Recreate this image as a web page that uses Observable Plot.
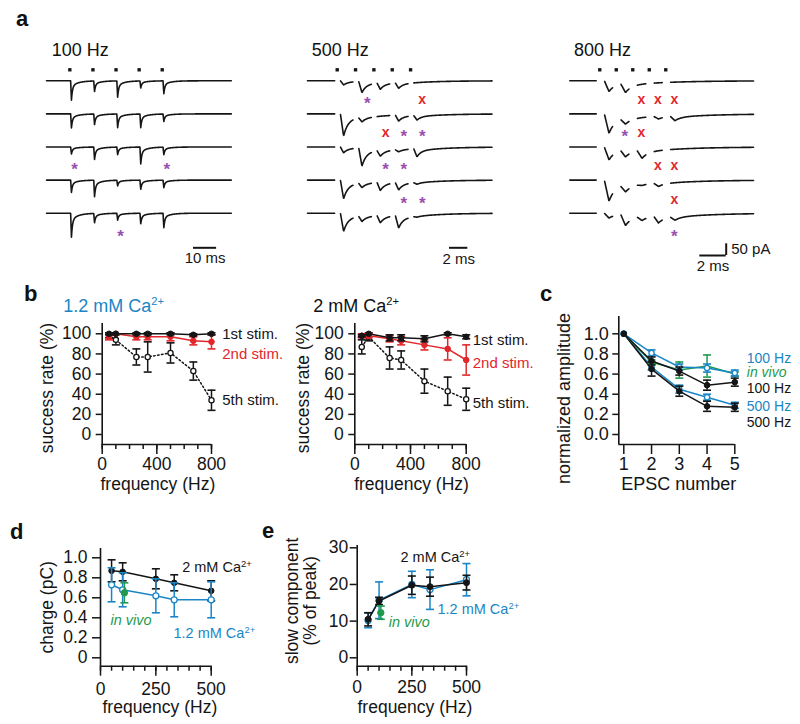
<!DOCTYPE html>
<html><head><meta charset="utf-8">
<script src="https://cdn.jsdelivr.net/npm/d3@7"></script>
<script src="https://cdn.jsdelivr.net/npm/@observablehq/plot@0.6"></script>
<style>
body{margin:0;background:#fff;}
#fig{position:relative;width:800px;height:724px;overflow:hidden;font-family:"Liberation Sans",Arial,Helvetica,sans-serif;color:#111;}
#fig svg{position:absolute;overflow:visible;background:none;}
.lab{position:absolute;font-weight:bold;font-size:22px;line-height:1;}
.ttl{position:absolute;font-size:18px;line-height:1;white-space:nowrap;}
.ttl sup{font-size:0.62em;vertical-align:baseline;position:relative;top:-0.62em;}
</style></head><body><div id="fig"></div>
<script>
// ================= DATA =================
// ---- panel a: EPSC amplitudes (pA) per trace (rows) and stimulus (columns) ----
const traceTitles = ["100 Hz", "500 Hz", "800 Hz"];
const stimFreqs = [100, 500, 800];
const amps100 = [[83,45,70,30,55],[60,45,58,58,32],[30,53,32,72,32],[53,70,24,39,32],[103,40,29,45,61]];
const amps500 = [[18,48,28,24,0],[95,20,0,26,20],[25,78,26,10,35],[80,20,36,32,8],[78,24,32,54,4]];
const amps800 = [[46,40,0,0,0],[83,25,0,12,20],[55,30,35,0,0],[90,30,5,15,0],[21,48,18,30,16]];
// markers: trace index, stimulus index, symbol (* = asynchronous, x = failure)
const marks100 = [{trace:2,stim:0,sym:"*"},{trace:2,stim:4,sym:"*"},{trace:4,stim:2,sym:"*"}];
const marks500 = [{trace:0,stim:1,sym:"*"},{trace:0,stim:4,sym:"x"},{trace:1,stim:2,sym:"x"},{trace:1,stim:3,sym:"*"},{trace:1,stim:4,sym:"*"},{trace:2,stim:2,sym:"*"},{trace:2,stim:3,sym:"*"},{trace:3,stim:3,sym:"*"},{trace:3,stim:4,sym:"*"}];
const marks800 = [{trace:0,stim:2,sym:"x"},{trace:0,stim:3,sym:"x"},{trace:0,stim:4,sym:"x"},{trace:1,stim:1,sym:"*"},{trace:1,stim:2,sym:"x"},{trace:2,stim:3,sym:"x"},{trace:2,stim:4,sym:"x"},{trace:3,stim:4,sym:"x"},{trace:4,stim:4,sym:"*"}];
const scaleBarMs = [10, 2, 2];
const scaleBarPA = 50;

// ---- panel b: success rate (%) vs frequency (Hz) ----
const freqB = [50, 100, 250, 333, 500, 667, 800];
const bTicksX = [0, 400, 800];
const bTicksY = [0, 20, 40, 60, 80, 100];
const low1st = [100, 100, 100, 100, 100, 99, 100];
const low1stErr = [1, 0, 1, 1, 1, 1, 1];
const low2nd = [97, 100, 97, 97, 97, 93, 92];
const low2ndErr = [3, 0, 3, 3, 4, 4, 7];
const low5th = [98, 94, 77, 77, 81, 63, 34];
const low5thErr = [2, 5, 8, 15, 10, 9, 10];
const high1st = [98, 100, 96, 96, 95, 100, 97];
const high1stErr = [1, 0, 3, 3, 3, 1, 2];
const high2nd = [98, 98, 95, 93, 89, 85, 74];
const high2ndErr = [2, 2, 3, 4, 5, 11, 15];
const high5th = [87, 97, 76, 74, 53, 43, 35];
const high5thErr = [7, 4, 11, 9, 12, 14, 11];

// ---- panel c: normalized amplitude vs EPSC number ----
const epscNum = [1, 2, 3, 4, 5];
const cTicksY = [0, 0.2, 0.4, 0.6, 0.8, 1.0];
const c100Low = [1, 0.81, 0.67, 0.66, 0.61];
const c100LowErr = [0, 0.03, 0.03, 0.04, 0.03];
const cVivo = [1, 0.72, 0.64, 0.68, 0.60];
const cVivoErr = [0, 0.02, 0.08, 0.11, 0.02];
const c100High = [1, 0.73, 0.63, 0.49, 0.52];
const c100HighErr = [0, 0.04, 0.04, 0.05, 0.04];
const c500Low = [1, 0.67, 0.45, 0.37, 0.29];
const c500LowErr = [0, 0.03, 0.04, 0.03, 0.03];
const c500High = [1, 0.65, 0.43, 0.28, 0.27];
const c500HighErr = [0, 0.07, 0.05, 0.05, 0.04];

// ---- panel d: charge (pC) vs frequency; panel e: slow component (% of peak) ----
const freqDE = [50, 100, 250, 333, 500];
const freqVivo = [108];
const deTicksX = [0, 250, 500];
const dTicksY = [0, 0.2, 0.4, 0.6, 0.8, 1.0];
const dHigh = [0.87, 0.86, 0.79, 0.75, 0.67];
const dHighErr = [0.11, 0.09, 0.10, 0.08, 0.10];
const dLow = [0.73, 0.68, 0.62, 0.58, 0.58];
const dLowErr = [0.17, 0.17, 0.17, 0.17, 0.18];
const dVivo = [0.65];
const dVivoErr = [0.10];
const eTicksY = [0, 10, 20, 30];
const eHigh = [10.5, 15.5, 19.8, 19.4, 20.5];
const eHighErr = [1.8, 1.0, 2.5, 2.6, 2.0];
const eLow = [10.2, 15.7, 20.0, 18.6, 21.3];
const eLowErr = [2.0, 5.0, 3.6, 5.4, 4.4];
const eVivo = [12.3];
const eVivoErr = [1.8];

// ================= STYLE / HELPERS =================
const FONT = '"Liberation Sans", Arial, Helvetica, sans-serif';
const DARK = "#151515", BLUE = "#1a86c6", RED = "#e3262b", GREEN = "#1f9a4d", PURPLE = "#9a4fb0";
const fig = document.getElementById("fig");
const NS = "http://www.w3.org/2000/svg";

function geo(left, top, width, height, xMap, xPx, yMap, yPx) {
  const inv = m => p => m[0] + (p - m[1]) * (m[2] - m[0]) / (m[3] - m[1]);
  const xv = inv(xMap), yv = inv(yMap);
  return {left, top, width, height,
    marginLeft: xPx[0] - left, marginRight: left + width - xPx[1],
    marginTop: yPx[1] - top, marginBottom: top + height - yPx[0],
    xDomain: [xv(xPx[0]), xv(xPx[1])], yDomain: [yv(yPx[0]), yv(yPx[1])], xv, yv};
}
function mkPlot(g, marks, noAxes, fs) {
  const svg = Plot.plot({
    width: g.width, height: g.height,
    marginLeft: g.marginLeft, marginRight: g.marginRight, marginTop: g.marginTop, marginBottom: g.marginBottom,
    x: Object.assign({domain: g.xDomain, label: null}, noAxes ? {axis: null} : {}),
    y: Object.assign({domain: g.yDomain, label: null}, noAxes ? {axis: null} : {}),
    style: {fontFamily: FONT, fontSize: (fs || 17) + "px", color: DARK, background: "none", overflow: "visible"},
    marks
  });
  svg.querySelectorAll("text").forEach(t => {
    if (t.children.length === 0 && /Ca2\+$/.test(t.textContent)) {
      t.textContent = t.textContent.replace(/2\+$/, "");
      const ts = document.createElementNS(NS, "tspan");
      ts.setAttribute("dy", "-0.6em"); ts.setAttribute("font-size", "0.65em");
      ts.textContent = "2+"; t.appendChild(ts);
    }
  });
  svg.style.left = g.left + "px"; svg.style.top = g.top + "px";
  fig.appendChild(svg);
  return svg;
}
function addDiv(cls, html, left, top, color, style) {
  const d = document.createElement("div");
  d.className = cls; d.innerHTML = html;
  d.style.left = left + "px"; d.style.top = top + "px";
  if (color) d.style.color = color;
  if (style) Object.assign(d.style, style);
  fig.appendChild(d);
}
const rows = (xs, ys, es) => xs.map((x, i) => ({x, y: ys[i], e: es[i]}));
const capSym = {draw(ctx, size) { const r = Math.sqrt(size / Math.PI); ctx.moveTo(-r, 0); ctx.lineTo(r, 0); }};
function series(data, {color, open = false, dash, r = 3, cap = 4, lw = 1.5, dots = true}) {
  const withErr = data.filter(d => d.e > 0);
  const m = [
    Plot.line(data, {x: "x", y: "y", stroke: color, strokeWidth: lw, strokeDasharray: dash}),
    Plot.ruleX(withErr, {x: "x", y1: d => d.y - d.e, y2: d => d.y + d.e, stroke: color, strokeWidth: 1.5}),
    Plot.dot(withErr, {x: "x", y: d => d.y - d.e, symbol: capSym, r: cap, stroke: color, fill: "none", strokeWidth: 1.6}),
    Plot.dot(withErr, {x: "x", y: d => d.y + d.e, symbol: capSym, r: cap, stroke: color, fill: "none", strokeWidth: 1.6})
  ];
  if (dots) m.push(Plot.dot(data, {x: "x", y: "y", r, fill: open ? "white" : color, stroke: color, strokeWidth: open ? 1.3 : 1}));
  return m;
}
function axes(g, o) {
  return [
    Plot.ruleX([g.xDomain[0]], {stroke: DARK, strokeWidth: 1.6}),
    Plot.ruleY([g.yDomain[0]], {stroke: DARK, strokeWidth: 1.6}),
    Plot.axisX({ticks: o.xMinor, tickSize: 5, tickFormat: () => "", label: null, strokeWidth: 1.5}),
    Plot.axisX({ticks: o.xTicks, tickSize: o.xTickSize || 10, tickPadding: o.xPad, tickFormat: d3.format("d"), label: null, strokeWidth: 1.5, fontSize: o.fs}),
    Plot.axisY({ticks: o.yTicks, tickSize: o.yTickSize, tickPadding: o.yPad, tickFormat: o.yFmt, label: null, strokeWidth: 1.5, fontSize: o.fs}),
    Plot.text([o.xLabel], {text: d => d, frameAnchor: "bottom", textAnchor: "middle", lineAnchor: "middle",
      dy: o.xLabelDy, dx: o.xLabelDx || 0, fontSize: o.fs, fill: DARK}),
    Plot.text([o.yLabel], {text: d => d, frameAnchor: "left", textAnchor: "middle", lineAnchor: "middle", rotate: -90,
      dx: o.yLabelDx, dy: o.yLabelDy, fontSize: o.fs, lineHeight: 1.05, fill: DARK})
  ];
}
function lastLabel(data, text, o) {
  const p = data[data.length - 1];
  return Plot.text([p], {x: "x", y: "y", text: () => text, textAnchor: "start", lineAnchor: "middle", dx: o.dx, dy: o.dy,
    fill: o.fill || DARK, fontSize: o.fs || 15, fontStyle: o.italic ? "italic" : "normal"});
}

// ================= PANEL a: traces =================
const TRACE0_Y = 80.3, TRACE_GAP_PX = 33.1, PA50_PX = 11.7, STIM_Y = 69.3;
const DELAY = 0.35, RISE = 0.35, TAU_F = 0.45, TAU_S = 3, SLOW = 0.28, DT = 0.04;
function kernel(s) {
  if (s <= 0) return 0;
  if (s < RISE) return s / RISE;
  const u = s - RISE;
  return (1 - SLOW) * Math.exp(-u / TAU_F) + SLOW * Math.exp(-u / TAU_S);
}
const traceCfg = [
  {amps: amps100, marks: marks100, left: 0, width: 270, x0: 46, pxPerMs: 2.31, first: 10.1, dur: 80, gap: false, markOffset: 2.0, barX: 193, barY: 247.3, labY: 258, titleX: 51.7},
  {amps: amps500, marks: marks500, left: 280, width: 250, x0: 307, pxPerMs: 9.17, first: 3.24, dur: 20.1, gap: true, markOffset: 1.27, barX: 449, barY: 247.3, labY: 258.7, titleX: 311.7},
  {amps: amps800, marks: marks800, left: 540, width: 260, x0: 569.3, pxPerMs: 13.2, first: 2.27, dur: 13.9, gap: true, markOffset: 0.65, barX: 699.3, barY: 255, labY: 265.5, titleX: 574, vbar: true}
];
traceCfg.forEach((cfg, pi) => {
  const g = geo(cfg.left, 30, cfg.width, 250, [0, cfg.x0, 1, cfg.x0 + cfg.pxPerMs],
    [cfg.x0 - 2, cfg.x0 + cfg.dur * cfg.pxPerMs + 2], [0, TRACE0_Y, scaleBarPA, TRACE0_Y - PA50_PX], [278, 38]);
  const interval = 1000 / stimFreqs[pi];
  const stims = d3.range(5).map(k => cfg.first + k * interval);
  const base = i => g.yv(TRACE0_Y + i * TRACE_GAP_PX);
  const pts = [];
  const n = Math.round(cfg.dur / DT);
  cfg.amps.forEach((a, i) => {
    for (let j = 0; j <= n; j++) {
      const t = j * DT;
      let v = 0;
      stims.forEach((s, k) => { v -= a[k] * kernel(t - s - DELAY); });
      const blank = cfg.gap && stims.some(s => t > s - 0.25 && t < s + 0.35);
      pts.push({trace: i, t, v: blank ? NaN : base(i) + v});
    }
  });
  const bx1 = g.xv(cfg.barX), bx2 = bx1 + scaleBarMs[pi], by = g.yv(cfg.barY);
  const marks = [
    Plot.line(pts, {x: "t", y: "v", z: "trace", stroke: DARK, strokeWidth: 1.6, strokeLinejoin: "round"}),
    Plot.dot(stims, {x: d => d, y: g.yv(STIM_Y), symbol: "square", r: 1.9, fill: DARK}),
    Plot.text(cfg.marks.filter(d => d.sym === "x"), {x: d => stims[d.stim] + cfg.markOffset, y: d => base(d.trace), text: () => "x",
      dy: 19, fill: RED, fontSize: 14, fontWeight: "bold"}),
    Plot.text(cfg.marks.filter(d => d.sym === "*"), {x: d => stims[d.stim] + cfg.markOffset, y: d => base(d.trace), text: () => "*",
      dy: 23, fill: PURPLE, fontSize: 17, fontWeight: "bold"}),
    Plot.ruleY([by], {x1: bx1, x2: bx2, stroke: DARK, strokeWidth: 2}),
    Plot.text([scaleBarMs[pi] + " ms"], {x: (bx1 + bx2) / 2, y: g.yv(cfg.labY), text: d => d, fontSize: 15, fill: DARK})
  ];
  if (cfg.vbar) {
    marks.push(Plot.ruleX([bx2], {y1: by, y2: by + scaleBarPA, stroke: DARK, strokeWidth: 2}));
    marks.push(Plot.text([scaleBarPA + " pA"], {x: bx2, y: by + scaleBarPA / 2, text: d => d, textAnchor: "start", dx: 5, fontSize: 15, fill: DARK}));
  }
  mkPlot(g, marks, true);
  addDiv("ttl", traceTitles[pi], cfg.titleX, 41.3);
});

// ================= PANEL b =================
function panelB(left, xPx, s, lblDx, lblDy) {
  const g = geo(left, 280, 290, 230, [0, xPx[0], 800, xPx[1]], xPx, [0, 434, 100, 333.3], [444, 323]);
  const s1 = rows(freqB, s[0], s[1]);
  const s2 = rows(freqB, s[2], s[3]);
  const s5 = rows(freqB, s[4], s[5]);
  const fs = 17.5;
  mkPlot(g, [
    ...axes(g, {xMinor: d3.range(0, 801, 100), xTicks: bTicksX, xPad: 3, yTicks: bTicksY, yTickSize: 6, yPad: 5,
      yFmt: d3.format("d"), xLabel: "frequency (Hz)", xLabelDy: 39.5, xLabelDx: 1, yLabel: "success rate (%)", yLabelDx: lblDx.y, yLabelDy: 4, fs}),
    ...series(s5, {color: DARK, open: true, dash: "1.6,2.4", r: 2.6}),
    ...series(s2, {color: RED, r: 2.8}),
    ...series(s1, {color: DARK, r: 2.8}),
    lastLabel(s1, "1st stim.", {dx: lblDx.l, dy: lblDy[0]}),
    lastLabel(s2, "2nd stim.", {dx: lblDx.l, dy: lblDy[1], fill: RED}),
    lastLabel(s5, "5th stim.", {dx: lblDx.l, dy: lblDy[2]})
  ], false, fs);
}
panelB(0, [101.7, 211], [low1st, low1stErr, low2nd, low2ndErr, low5th, low5thErr], {y: -54.7, l: 10.7}, [0, 12, 0]);
panelB(270, [354.3, 465.7], [high1st, high1stErr, high2nd, high2ndErr, high5th, high5thErr], {y: -52, l: 6.5}, [3, 3, 4]);
addDiv("ttl", "1.2 mM Ca<sup>2+</sup>", 63.3, 297.3, BLUE);
addDiv("ttl", "2 mM Ca<sup>2+</sup>", 313.3, 297.3);

// ================= PANEL c =================
{
  const g = geo(540, 280, 260, 230, [1, 623.3, 5, 734.3], [618.3, 734.3], [0, 434, 1, 333.3], [444, 316]);
  const sB100 = rows(epscNum, c100Low, c100LowErr), sV = rows(epscNum, cVivo, cVivoErr), sK100 = rows(epscNum, c100High, c100HighErr);
  const sB500 = rows(epscNum, c500Low, c500LowErr), sK500 = rows(epscNum, c500High, c500HighErr);
  const fs = 18;
  mkPlot(g, [
    ...axes(g, {xMinor: [], xTicks: epscNum, xPad: 3, yTicks: cTicksY, yTickSize: 6, yPad: 4, yFmt: d => d.toFixed(1),
      xLabel: "EPSC number", xLabelDy: 40, xLabelDx: 2, yLabel: "normalized amplitude", yLabelDx: -55, yLabelDy: 18, fs}),
    ...series(sB500, {color: BLUE, open: true, r: 2.6}),
    ...series(sK500, {color: DARK, r: 2.8}),
    ...series(sV, {color: GREEN, r: 1.6}),
    ...series(sB100, {color: BLUE, open: true, r: 2.6}),
    ...series(sK100, {color: DARK, r: 2.8}),
    lastLabel(sB100, "100 Hz", {dx: 12, dy: -14.2, fill: BLUE, fs: 14}),
    lastLabel(sV, "in vivo", {dx: 12, dy: -1.6, fill: GREEN, fs: 14, italic: true}),
    lastLabel(sK100, "100 Hz", {dx: 12, dy: 6.8, fs: 14}),
    lastLabel(sB500, "500 Hz", {dx: 12, dy: 1, fill: BLUE, fs: 14}),
    lastLabel(sK500, "500 Hz", {dx: 12, dy: 15, fs: 14})
  ], false, fs);
}

// ================= PANEL d =================
{
  const g = geo(0, 530, 280, 194, [0, 100, 500, 210.7], [100, 210.7], [0, 657.3, 1, 557.3], [665.7, 548]);
  const sH = rows(freqDE, dHigh, dHighErr), sL = rows(freqDE, dLow, dLowErr), sV = rows(freqVivo, dVivo, dVivoErr);
  const fs = 17.5;
  mkPlot(g, [
    ...axes(g, {xMinor: d3.range(0, 501, 50), xTicks: deTicksX, xPad: 6, yTicks: dTicksY, yTickSize: 8, yPad: 5,
      yFmt: d => d === 0 ? "0" : d.toFixed(1), xLabel: "frequency (Hz)", xLabelDy: 41, xLabelDx: 4, yLabel: "charge (pC)", yLabelDx: -53.3, yLabelDy: 0, fs}),
    ...series(sH, {color: DARK, r: 2.8}),
    ...series(sL, {color: BLUE, open: true, r: 3}),
    ...series(sV, {color: GREEN, r: 3.2}),
    lastLabel(sH, "2 mM Ca2+", {dx: -29, dy: -23.3, fs: 14.5}),
    lastLabel(sL, "1.2 mM Ca2+", {dx: -37.7, dy: 33.7, fill: BLUE, fs: 14.5}),
    lastLabel(sV, "in vivo", {dx: -14, dy: 27.7, fill: GREEN, fs: 14.5, italic: true})
  ], false, fs);
}

// ================= PANEL e =================
{
  const g = geo(260, 530, 280, 194, [0, 356.7, 500, 466], [356.7, 466], [0, 657.3, 30, 547.3], [665.7, 545]);
  const sH = rows(freqDE, eHigh, eHighErr), sL = rows(freqDE, eLow, eLowErr), sV = rows(freqVivo, eVivo, eVivoErr);
  const fs = 17.5;
  mkPlot(g, [
    ...axes(g, {xMinor: d3.range(0, 501, 50), xTicks: deTicksX, xPad: 4, yTicks: eTicksY, yTickSize: 7, yPad: 2,
      yFmt: d3.format("d"), xLabel: "frequency (Hz)", xLabelDy: 41, xLabelDx: 3, yLabel: "slow component\n(% of peak)", yLabelDx: -56, yLabelDy: -5, fs}),
    ...series(sL, {color: BLUE, open: true, r: 3}),
    ...series(sH, {color: DARK, r: 3}),
    ...series(sV, {color: GREEN, r: 3.2}),
    lastLabel(sH, "2 mM Ca2+", {dx: -66, dy: -25, fs: 14.5}),
    lastLabel(sL, "1.2 mM Ca2+", {dx: -29, dy: 29.8, fill: BLUE, fs: 14.5}),
    lastLabel(sV, "in vivo", {dx: 8, dy: 9.8, fill: GREEN, fs: 14.5, italic: true})
  ], false, fs);
}

// ================= panel letters =================
addDiv("lab", "a", 16, 8.4);
addDiv("lab", "b", 24, 283);
addDiv("lab", "c", 540, 283);
addDiv("lab", "d", 10, 521);
addDiv("lab", "e", 262, 520);
</script></body></html>
